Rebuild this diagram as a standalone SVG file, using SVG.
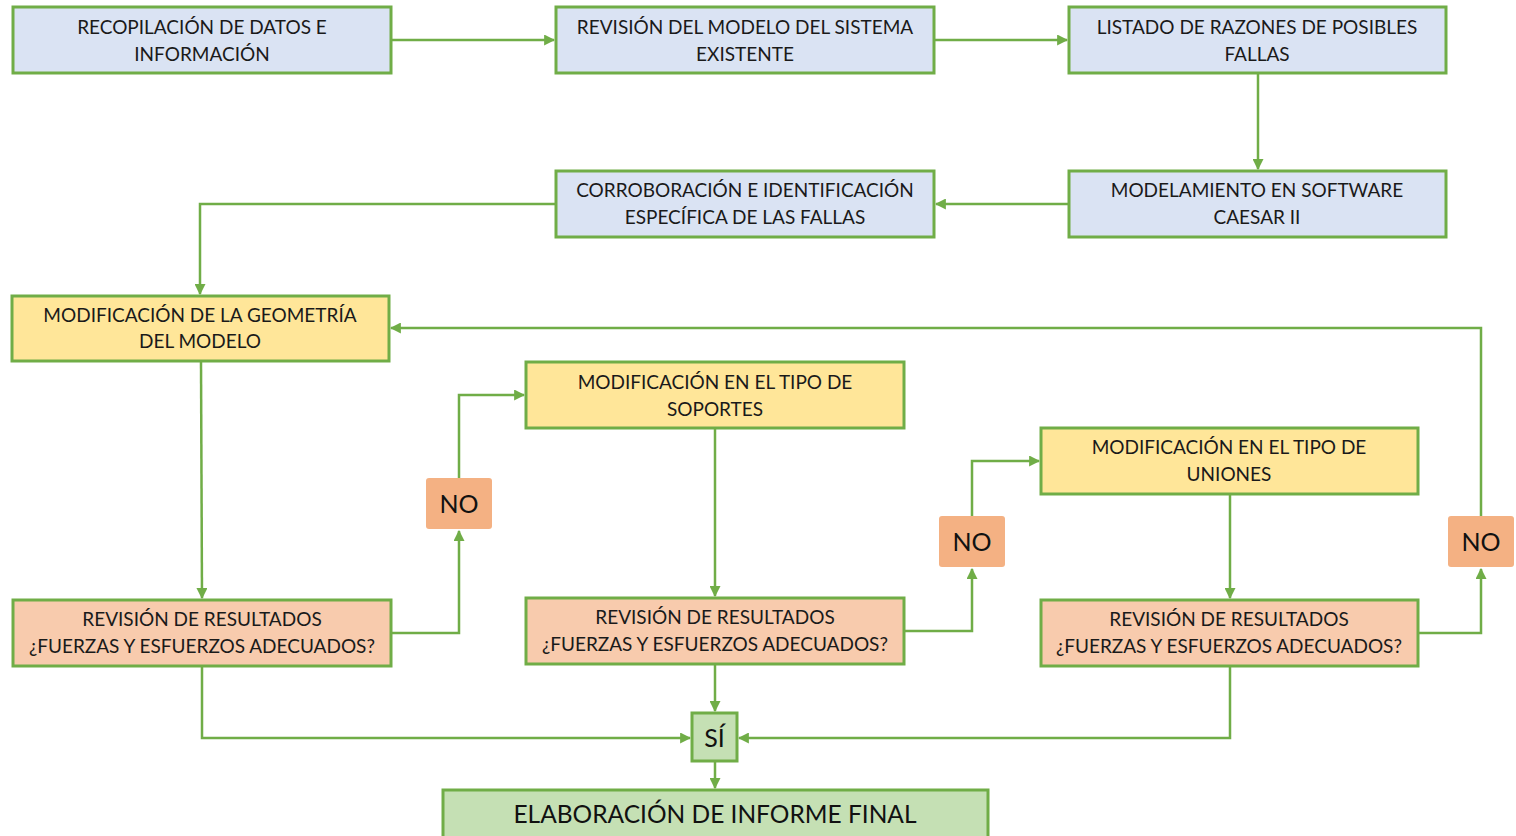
<svg xmlns="http://www.w3.org/2000/svg" width="1516" height="836" viewBox="0 0 1516 836">
<defs>
<style>
.box{stroke:#70ad47;stroke-width:3}
.blue{fill:#dae3f3}
.yel{fill:#ffe699}
.org{fill:#f8cbad}
.grn{fill:#c5e0b4}
.no{fill:#f4b183}
.t{font-family:Lato,"Open Sans",sans-serif;font-size:19px;fill:#1a1a1a;text-anchor:middle}
.tb{font-family:Lato,"Open Sans",sans-serif;font-size:25px;fill:#111;text-anchor:middle}
.tf{font-family:Lato,"Open Sans",sans-serif;font-size:24.5px;fill:#111;text-anchor:middle}
.ln{fill:none;stroke:#70ad47;stroke-width:2.5}
</style>
<marker id="ah" viewBox="0 0 10 10" refX="9" refY="5" markerWidth="4.4" markerHeight="4.4" orient="auto" markerUnits="strokeWidth">
<path d="M0,0 L10,5 L0,10 z" fill="#70ad47"/>
</marker>
</defs>
<rect width="1516" height="836" fill="#fff"/>

<g id="connectors">
<path class="ln" d="M391,40 H554" marker-end="url(#ah)"/>
<path class="ln" d="M934,40 H1067" marker-end="url(#ah)"/>
<path class="ln" d="M1258,73 V169" marker-end="url(#ah)"/>
<path class="ln" d="M1069,204 H936" marker-end="url(#ah)"/>
<path class="ln" d="M556,204 H200 V294" marker-end="url(#ah)"/>
<path class="ln" d="M1481,516 V328 H391" marker-end="url(#ah)"/>
<path class="ln" d="M201,361 L202,598" marker-end="url(#ah)"/>
<path class="ln" d="M391,633 H459 V531" marker-end="url(#ah)"/>
<path class="ln" d="M459,478 V395 H524" marker-end="url(#ah)"/>
<path class="ln" d="M715,428 V596" marker-end="url(#ah)"/>
<path class="ln" d="M904,631 H972 V569" marker-end="url(#ah)"/>
<path class="ln" d="M972,516 V461 H1039" marker-end="url(#ah)"/>
<path class="ln" d="M1230,494 V598" marker-end="url(#ah)"/>
<path class="ln" d="M1418,633 H1481 V569" marker-end="url(#ah)"/>
<path class="ln" d="M202,666 V738 H690" marker-end="url(#ah)"/>
<path class="ln" d="M715,664 V711" marker-end="url(#ah)"/>
<path class="ln" d="M1230,666 V738 H739" marker-end="url(#ah)"/>
<path class="ln" d="M715,761 V788" marker-end="url(#ah)"/>
</g>

<g id="n1"><rect class="box blue" x="13" y="7" width="378" height="66"/>
<text class="t" x="202" y="34">RECOPILACIÓN DE DATOS E</text><text class="t" x="202" y="61">INFORMACIÓN</text></g>
<g id="n2"><rect class="box blue" x="556" y="7" width="378" height="66"/>
<text class="t" x="745" y="34">REVISIÓN DEL MODELO DEL SISTEMA</text><text class="t" x="745" y="61">EXISTENTE</text></g>
<g id="n3"><rect class="box blue" x="1069" y="7" width="377" height="66"/>
<text class="t" x="1257" y="34">LISTADO DE RAZONES DE POSIBLES</text><text class="t" x="1257" y="61">FALLAS</text></g>
<g id="n4"><rect class="box blue" x="1069" y="171" width="377" height="66"/>
<text class="t" x="1257" y="197">MODELAMIENTO EN SOFTWARE</text><text class="t" x="1257" y="224">CAESAR II</text></g>
<g id="n5"><rect class="box blue" x="556" y="171" width="378" height="66"/>
<text class="t" x="745" y="197">CORROBORACIÓN E IDENTIFICACIÓN</text><text class="t" x="745" y="224">ESPECÍFICA DE LAS FALLAS</text></g>
<g id="n6"><rect class="box yel" x="12" y="296" width="377" height="65"/>
<text class="t" x="200" y="322">MODIFICACIÓN DE LA GEOMETRÍA</text><text class="t" x="200" y="348">DEL MODELO</text></g>
<g id="n7"><rect class="box yel" x="526" y="362" width="378" height="66"/>
<text class="t" x="715" y="389">MODIFICACIÓN EN EL TIPO DE</text><text class="t" x="715" y="416">SOPORTES</text></g>
<g id="n8"><rect class="box yel" x="1041" y="428" width="377" height="66"/>
<text class="t" x="1229" y="454">MODIFICACIÓN EN EL TIPO DE</text><text class="t" x="1229" y="481">UNIONES</text></g>
<g id="n9"><rect class="box org" x="13" y="600" width="378" height="66"/>
<text class="t" x="202" y="626">REVISIÓN DE RESULTADOS</text><text class="t" x="202" y="653">¿FUERZAS Y ESFUERZOS ADECUADOS?</text></g>
<g id="n10"><rect class="box org" x="526" y="598" width="378" height="66"/>
<text class="t" x="715" y="624">REVISIÓN DE RESULTADOS</text><text class="t" x="715" y="651">¿FUERZAS Y ESFUERZOS ADECUADOS?</text></g>
<g id="n11"><rect class="box org" x="1041" y="600" width="377" height="66"/>
<text class="t" x="1229" y="626">REVISIÓN DE RESULTADOS</text><text class="t" x="1229" y="653">¿FUERZAS Y ESFUERZOS ADECUADOS?</text></g>
<g id="no1"><rect class="no" x="426" y="478" width="66" height="51" rx="3"/>
<text class="tb" x="459" y="513">NO</text></g>
<g id="no2"><rect class="no" x="939" y="516" width="66" height="51" rx="3"/>
<text class="tb" x="972" y="551">NO</text></g>
<g id="no3"><rect class="no" x="1448" y="516" width="66" height="51" rx="3"/>
<text class="tb" x="1481" y="551">NO</text></g>
<g id="si"><rect class="box grn" x="692" y="713" width="45" height="48"/>
<text class="tb" x="714.5" y="747">SÍ</text></g>
<g id="final"><rect class="box grn" x="443" y="790" width="545" height="60"/>
<text class="tf" x="715" y="823">ELABORACIÓN DE INFORME FINAL</text></g>
</svg>
